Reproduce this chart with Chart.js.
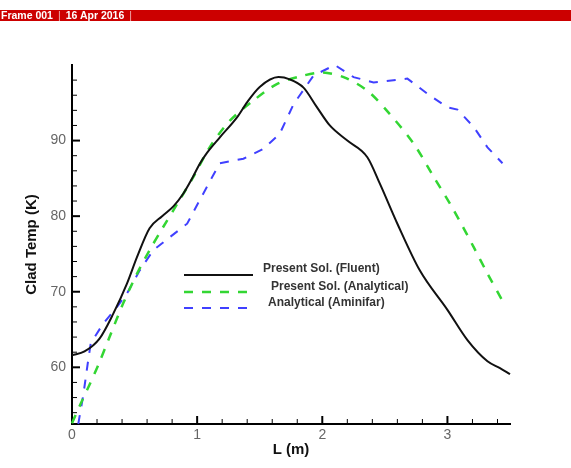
<!DOCTYPE html>
<html>
<head>
<meta charset="utf-8">
<script src="https://cdn.jsdelivr.net/npm/chart.js@4.4.0/dist/chart.umd.min.js"></script>
<style>
  html, body { margin: 0; padding: 0; background: #fff; }
  #wrap { position: relative; width: 571px; height: 468px; }
  #frame {
    position: absolute; left: 0; top: 10px; width: 571px; height: 11px;
    background: #cc0000; color: #fff; font: bold 10.5px "Liberation Sans", Arial, sans-serif;
    line-height: 11px; padding-left: 1px; white-space: pre; box-sizing: border-box;
  }
  #frame .sep { font-weight: normal; color: #f0b0b0; margin: 0 5px; }
</style>
</head>
<body>
<div id="wrap">
  <canvas id="myChart" width="571" height="468"></canvas>
  <div id="frame">Frame 001<span class="sep">|</span>16 Apr 2016<span class="sep">|</span></div>
</div>
<script>
// Present Sol. (Fluent)
var fluentL = [0, 0.1, 0.22, 0.33, 0.44, 0.52, 0.62, 0.72, 0.81, 0.89, 0.96, 1.02, 1.08, 1.18, 1.32, 1.4, 1.5, 1.65, 1.74, 1.85, 1.95, 2.06, 2.2, 2.36, 2.46, 2.6, 2.78, 3.0, 3.16, 3.32, 3.42, 3.5];
var fluentT = [61.6, 62.1, 63.8, 67.1, 71.1, 74.6, 78.4, 80.0, 81.3, 83.0, 85.0, 86.9, 88.4, 90.4, 93.1, 95.1, 97.1, 98.4, 98.1, 97.0, 94.6, 92.0, 90.0, 87.8, 84.3, 79.0, 72.8, 67.6, 63.6, 60.8, 59.9, 59.1];

// Present Sol. (Analytical)
var analyticL = [0, 0.07, 0.14, 0.21, 0.3, 0.41, 0.52, 0.62, 0.73, 0.84, 0.97, 1.1, 1.26, 1.45, 1.64, 1.85, 2.0, 2.17, 2.36, 2.54, 2.73, 2.89, 3.05, 3.21, 3.32, 3.44];
var analyticT = [52.6, 55.2, 57.7, 60.3, 64.0, 68.5, 72.4, 75.5, 78.6, 81.6, 85.2, 89.1, 92.6, 95.3, 97.5, 98.6, 99.0, 98.4, 96.6, 93.5, 89.6, 85.2, 80.8, 75.9, 72.4, 68.8];

// Analytical (Aminifar)
var aminifarL = [0.05, 0.09, 0.13, 0.15, 0.25, 0.36, 0.44, 0.54, 0.65, 0.78, 0.92, 1.02, 1.18, 1.37, 1.53, 1.66, 1.77, 1.93, 2.1, 2.25, 2.41, 2.68, 2.84, 3.0, 3.08, 3.21, 3.32, 3.44];
var aminifarT = [52.5, 56.3, 61.0, 63.2, 65.8, 68.0, 69.8, 72.8, 75.5, 77.2, 79.0, 82.1, 87.0, 87.6, 88.9, 90.9, 94.8, 98.6, 100.0, 98.4, 97.7, 98.2, 96.2, 94.4, 94.1, 91.8, 89.1, 87.0];

var seriesNames = ['Present Sol. (Fluent)', 'Present Sol. (Analytical)', 'Analytical (Aminifar)'];
var xTickValues = [0, 1, 2, 3];
var yTickValues = [60, 70, 80, 90];

function toPoints(xs, ys) {
  var pts = [];
  for (var i = 0; i < xs.length; i++) {
    pts.push({ x: xs[i], y: ys[i] });
  }
  return pts;
}

var FONT = '"Liberation Sans", Arial, sans-serif';

// ticks drawn on the inside of the axes, plus the legend box inside the plot
var insidePlugin = {
  id: 'insideTicks',
  afterDraw: function (chart) {
    var ctx = chart.ctx;
    var area = chart.chartArea;
    var xs = chart.scales.x;
    var ys = chart.scales.y;
    ctx.save();
    ctx.strokeStyle = '#000';
    for (var v = 54; v < 100; v += 2) {
      var py = ys.getPixelForValue(v);
      var major = v % 10 === 0;
      ctx.lineWidth = major ? 2 : 1;
      ctx.beginPath();
      ctx.moveTo(area.left, py);
      ctx.lineTo(area.left + (major ? 8 : 5), py);
      ctx.stroke();
    }
    for (var k = 1; k <= 17; k++) {
      var val = k * 0.2;
      var px = xs.getPixelForValue(val);
      var maj = k % 5 === 0;
      ctx.lineWidth = maj ? 2 : 1;
      ctx.beginPath();
      ctx.moveTo(px, area.bottom);
      ctx.lineTo(px, area.bottom - (maj ? 8 : 5));
      ctx.stroke();
    }

    // legend
    var rows = [
      { lineY: 275, textX: 263, textY: 269 },
      { lineY: 292, textX: 271, textY: 287 },
      { lineY: 308, textX: 268, textY: 303 }
    ];
    ctx.font = 'bold 12px ' + FONT;
    ctx.textBaseline = 'middle';
    ctx.fillStyle = '#333';
    chart.data.datasets.forEach(function (ds, i) {
      var r = rows[i];
      ctx.strokeStyle = ds.borderColor;
      ctx.lineWidth = ds.borderWidth;
      ctx.setLineDash(ds.borderDash || []);
      ctx.beginPath();
      ctx.moveTo(184, r.lineY);
      ctx.lineTo(253, r.lineY);
      ctx.stroke();
      ctx.setLineDash([]);
      ctx.fillText(ds.label, r.textX, r.textY);
    });
    ctx.restore();
  }
};

var ctx = document.getElementById('myChart').getContext('2d');
var myChart = new Chart(ctx, {
  type: 'line',
  data: {
    datasets: [{
      label: seriesNames[0],
      data: toPoints(fluentL, fluentT),
      borderColor: '#111111',
      borderWidth: 2,
      cubicInterpolationMode: 'monotone',
      pointRadius: 0,
      fill: false
    }, {
      label: seriesNames[1],
      data: toPoints(analyticL, analyticT),
      borderColor: '#33d633',
      borderWidth: 2.5,
      borderDash: [9, 9],
      tension: 0.3,
      pointRadius: 0,
      fill: false
    }, {
      label: seriesNames[2],
      data: toPoints(aminifarL, aminifarT),
      borderColor: '#4040ff',
      borderWidth: 2,
      borderDash: [9, 9],
      tension: 0,
      pointRadius: 0,
      fill: false
    }]
  },
  options: {
    responsive: false,
    animation: false,
    clip: false,
    layout: { padding: { top: 65, right: 61, left: 0, bottom: 0 } },
    plugins: {
      legend: { display: false },
      tooltip: { enabled: false }
    },
    scales: {
      x: {
        type: 'linear',
        min: 0,
        max: 3.5,
        afterBuildTicks: function (scale) {
          scale.ticks = xTickValues.map(function (v) { return { value: v }; });
        },
        afterFit: function (scale) { scale.height = 44; },
        grid: { display: true, drawOnChartArea: false, drawTicks: false },
        border: { display: true, color: '#000', width: 2 },
        ticks: {
          padding: 3,
          maxRotation: 0,
          color: '#666',
          font: { family: FONT, size: 14 }
        },
        title: {
          display: true,
          text: 'L (m)',
          color: '#111',
          font: { family: FONT, size: 15, weight: 'bold' },
          padding: { top: 0, bottom: 9 }
        }
      },
      y: {
        type: 'linear',
        min: 52.5,
        max: 100,
        afterBuildTicks: function (scale) {
          scale.ticks = yTickValues.map(function (v) { return { value: v }; });
        },
        afterFit: function (scale) { scale.width = 72; },
        grid: { display: true, drawOnChartArea: false, drawTicks: false },
        border: { display: true, color: '#000', width: 2 },
        ticks: {
          padding: 6,
          color: '#666',
          font: { family: FONT, size: 14 }
        },
        title: {
          display: true,
          text: 'Clad Temp (K)',
          color: '#111',
          font: { family: FONT, size: 15, weight: 'bold' },
          padding: { top: 23, bottom: 0 }
        }
      }
    }
  },
  plugins: [insidePlugin]
});
</script>
</body>
</html>
